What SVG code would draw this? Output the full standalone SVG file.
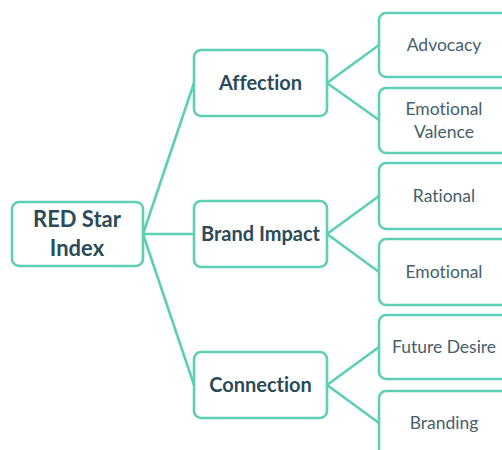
<svg xmlns="http://www.w3.org/2000/svg" width="502" height="450" viewBox="0 0 502 450">
<style>
.box{fill:#fff;stroke:#5ccfb4;stroke-width:2.6}
.ln{stroke:#5ccfb4;stroke-width:2.6;fill:none}
text{font-family:Lato,"Liberation Sans",sans-serif;text-anchor:middle;font-variant-ligatures:none}
.b{font-weight:bold;font-size:20px;fill:#2c4b58}
.big{font-size:22px}
.r{font-size:17.5px;fill:#45606b}
</style>
<rect width="502" height="450" fill="#fff"/>
<g id="connectors">
<line class="ln" x1="143" y1="234" x2="194" y2="83"/>
<line class="ln" x1="143" y1="234" x2="194" y2="234"/>
<line class="ln" x1="143" y1="234" x2="194" y2="385"/>
<line class="ln" x1="327" y1="83" x2="379" y2="45"/>
<line class="ln" x1="327" y1="83" x2="379" y2="120"/>
<line class="ln" x1="327" y1="234" x2="379" y2="196"/>
<line class="ln" x1="327" y1="234" x2="379" y2="272"/>
<line class="ln" x1="327" y1="385" x2="379" y2="347"/>
<line class="ln" x1="327" y1="385" x2="379" y2="423"/>
</g>
<g id="root"><rect class="box" x="12" y="202" width="131" height="64" rx="7"/><text class="b big" x="77" y="227">RED Star</text><text class="b big" x="77" y="256">Index</text></g>
<g id="affection"><rect class="box" x="194" y="50" width="133" height="66" rx="7"/><text class="b" x="260.5" y="90">Affection</text></g>
<g id="brand-impact"><rect class="box" x="194" y="201" width="133" height="66" rx="7"/><text class="b" x="260.5" y="241">Brand Impact</text></g>
<g id="connection"><rect class="box" x="194" y="352" width="133" height="66" rx="7"/><text class="b" x="260.5" y="392">Connection</text></g>
<g id="advocacy"><rect class="box" x="379" y="13" width="135" height="64" rx="7"/><text class="r" x="444" y="51">Advocacy</text></g>
<g id="emotional-valence"><rect class="box" x="379" y="88" width="135" height="65" rx="7"/><text class="r" x="444" y="115">Emotional</text><text class="r" x="444" y="138">Valence</text></g>
<g id="rational"><rect class="box" x="379" y="163" width="135" height="66" rx="7"/><text class="r" x="444" y="202">Rational</text></g>
<g id="emotional"><rect class="box" x="379" y="239" width="135" height="66" rx="7"/><text class="r" x="444" y="278">Emotional</text></g>
<g id="future-desire"><rect class="box" x="379" y="315" width="135" height="64" rx="7"/><text class="r" x="444" y="353">Future Desire</text></g>
<g id="branding"><rect class="box" x="379" y="391" width="135" height="70" rx="7"/><text class="r" x="444" y="429">Branding</text></g>
</svg>
